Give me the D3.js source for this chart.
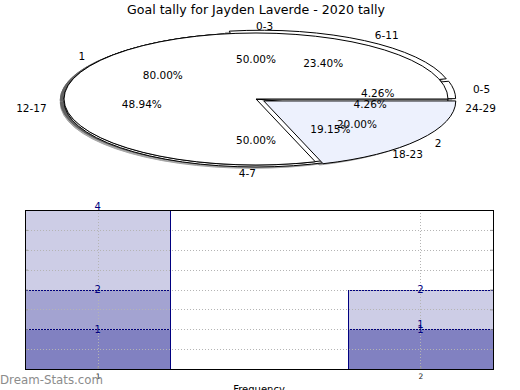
<!DOCTYPE html>
<html>
<head>
<meta charset="utf-8">
<title>Goal tally for Jayden Laverde - 2020 tally</title>
<script src="https://cdn.jsdelivr.net/npm/d3@7"></script>
<style>
body{margin:0;background:#fff;}
svg{display:block;font-family:"DejaVu Sans",sans-serif;}
</style>
</head>
<body>
<svg id="chart" width="520" height="390"></svg>
<script>
var title = "Goal tally for Jayden Laverde - 2020 tally";

// three pies drawn on the same centre
var ringA = ["0-3", "4-7"];
var ringAValues = [1, 1];
var ringB = ["0-5", "6-11", "12-17", "18-23", "24-29"];
var ringBValues = [2, 11, 23, 9, 2];
var ringC = ["1", "2"];
var ringCValues = [4, 1];

// stacked bars below
var barCats = [1, 2];
var seriesDark = [1, 1];
var seriesMid = [1, 0];
var seriesLight = [2, 1];

var svg = d3.select("#chart");

svg.append("text")
    .attr("x", 256).attr("y", 14)
    .attr("text-anchor", "middle")
    .style("font-size", "12.6px")
    .text(title);

// ---- pie ----
var cx = 256, cy = 99, rx = 192, ry = 66;
var rings = [
    {labels: ringA, values: ringAValues, explode: [0, 0.03], fills: ["#fff", "#fff"]},
    {labels: ringB, values: ringBValues, explode: [0.04, 0.05, 0, 0, 0], fills: ["#fff", "#fff", "#fff", "#fff", "#fff"]},
    {labels: ringC, values: ringCValues, explode: [0, 0.05], fills: ["#fff", "#edf1fd"]}
];

// counter clockwise from 3 o'clock, like matplotlib
var pie = d3.pie().sort(null).startAngle(Math.PI / 2).endAngle(Math.PI / 2 - 2 * Math.PI);
var arc = d3.arc().innerRadius(0).outerRadius(1);
var pct = d3.format(".2f");

rings.forEach(function(r){
    var total = d3.sum(r.values);
    r.arcs = pie(r.values);
    r.arcs.forEach(function(a, i){
        a.mid = (a.startAngle + a.endAngle) / 2;
        a.cx = cx + r.explode[i] * rx * Math.sin(a.mid);
        a.cy = cy - r.explode[i] * ry * Math.cos(a.mid);
        a.label = r.labels[i];
        a.pct = pct(r.values[i] / total * 100) + "%";
        a.fill = r.fills[i];
    });
});

var shadowG = svg.append("g");
var wedgeG = svg.append("g");
var textG = svg.append("g").style("font-size", "10.5px");

rings.forEach(function(r){
    r.arcs.forEach(function(a){
        shadowG.append("path")
            .attr("d", arc(a))
            .attr("transform", "translate(" + (a.cx - 0.02 * rx) + "," + (a.cy + 0.02 * ry) + ") scale(" + rx + "," + ry + ")")
            .attr("fill", "#4d4d4d")
            .attr("stroke", "#4d4d4d")
            .attr("opacity", 0.5)
            .attr("vector-effect", "non-scaling-stroke");
    });
});

rings.forEach(function(r){
    r.arcs.forEach(function(a){
        wedgeG.append("path")
            .attr("d", arc(a))
            .attr("transform", "translate(" + a.cx + "," + a.cy + ") scale(" + rx + "," + ry + ")")
            .attr("fill", a.fill)
            .attr("stroke", "#000")
            .attr("stroke-width", 1)
            .attr("vector-effect", "non-scaling-stroke");
    });
});

rings.forEach(function(r){
    r.arcs.forEach(function(a){
        var s = Math.sin(a.mid), c = Math.cos(a.mid);
        textG.append("text")
            .attr("x", a.cx + 1.1 * rx * s)
            .attr("y", a.cy - 1.1 * ry * c)
            .attr("dy", "0.35em")
            .attr("text-anchor", s >= 0 ? "start" : "end")
            .text(a.label);
        textG.append("text")
            .attr("x", a.cx + 0.6 * rx * s)
            .attr("y", a.cy - 0.6 * ry * c)
            .attr("dy", "0.35em")
            .attr("text-anchor", "middle")
            .text(a.pct);
    });
});

// ---- bars ----
var plotL = 25, plotR = 493, plotT = 210, plotB = 369;
var x = d3.scaleLinear().domain([0.775, 2.225]).range([plotL, plotR]);
var y = d3.scaleLinear().domain([0, 4]).range([plotB, plotT]);
var barW = 0.45;

var table = barCats.map(function(c, i){
    return {cat: c, dark: seriesDark[i], mid: seriesMid[i], light: seriesLight[i]};
});
var keys = ["dark", "mid", "light"];
var colors = {dark: "#8181c1", mid: "#a3a3d1", light: "#cdcde6"};
var stack = d3.stack().keys(keys)(table);

var barG = svg.append("g");
stack.forEach(function(layer){
    barG.selectAll(null).data(layer.filter(function(d){ return d[1] > d[0]; }))
        .enter().append("rect")
        .attr("x", function(d){ return Math.round(x(d.data.cat - barW / 2)) + 0.5; })
        .attr("width", function(d){ return Math.round(x(d.data.cat + barW / 2)) - Math.round(x(d.data.cat - barW / 2)); })
        .attr("y", function(d){ return Math.round(y(d[1])) + 0.5; })
        .attr("height", function(d){ return Math.round(y(d[0])) - Math.round(y(d[1])); })
        .attr("fill", colors[layer.key])
        .attr("stroke", "#000080")
        .attr("stroke-width", 1);
});

// dotted grid on top of the bars
var gridG = svg.append("g").attr("stroke", "#b4b4b4").attr("stroke-dasharray", "1,2");
gridG.selectAll(null).data(d3.range(0.5, 4, 0.5)).enter().append("line")
    .attr("x1", plotL).attr("x2", plotR)
    .attr("y1", function(d){ return Math.round(y(d)) + 0.5; })
    .attr("y2", function(d){ return Math.round(y(d)) + 0.5; });
gridG.selectAll(null).data(barCats).enter().append("line")
    .attr("y1", plotT).attr("y2", plotB)
    .attr("x1", function(d){ return Math.round(x(d)) + 0.5; })
    .attr("x2", function(d){ return Math.round(x(d)) + 0.5; });

var yTicks = d3.range(0, 4.01, 0.5);
svg.append("g").attr("transform", "translate(" + plotL + ",0)")
    .call(d3.axisLeft(y).tickValues(yTicks).tickSize(-3).tickFormat(""))
    .call(function(g){ g.select(".domain").remove(); g.selectAll("line").attr("stroke", "#999"); });
svg.append("g").attr("transform", "translate(" + plotR + ",0)")
    .call(d3.axisRight(y).tickValues(yTicks).tickSize(-3).tickFormat(""))
    .call(function(g){ g.select(".domain").remove(); g.selectAll("line").attr("stroke", "#999"); });
svg.append("g").attr("transform", "translate(0," + plotB + ")")
    .call(d3.axisBottom(x).tickValues(barCats).tickSize(-3).tickPadding(5).tickFormat(d3.format("d")))
    .call(function(g){
        g.select(".domain").remove();
        g.selectAll("line").attr("stroke", "#999");
        g.selectAll("text").style("font-family", "DejaVu Sans").style("font-size", "7.5px").attr("fill", "#222");
    });

svg.append("rect")
    .attr("x", plotL + 0.5).attr("y", plotT + 0.5)
    .attr("width", plotR - plotL).attr("height", plotB - plotT)
    .attr("fill", "none").attr("stroke", "#000");

// cumulative value labels
var seen = {};
stack.forEach(function(layer){
    layer.forEach(function(d){
        var key = d.data.cat + ":" + d[1];
        var yy = y(d[1]);
        if (d[1] === y.domain()[1]) yy -= 4;
        if (seen[key]) yy -= 5;
        seen[key] = true;
        svg.append("text")
            .attr("x", x(d.data.cat))
            .attr("y", yy)
            .attr("dy", "0.35em")
            .attr("text-anchor", "middle")
            .attr("fill", "#000080")
            .style("font-size", "10px")
            .text(d[1]);
    });
});

svg.append("text")
    .attr("x", 259).attr("y", 393)
    .attr("text-anchor", "middle")
    .style("font-size", "10px")
    .text("Frequency");

svg.append("text")
    .attr("x", 0).attr("y", 384)
    .attr("fill", "#8c8c8c")
    .style("font-size", "11.8px")
    .text("Dream-Stats.com");
</script>
</body>
</html>
